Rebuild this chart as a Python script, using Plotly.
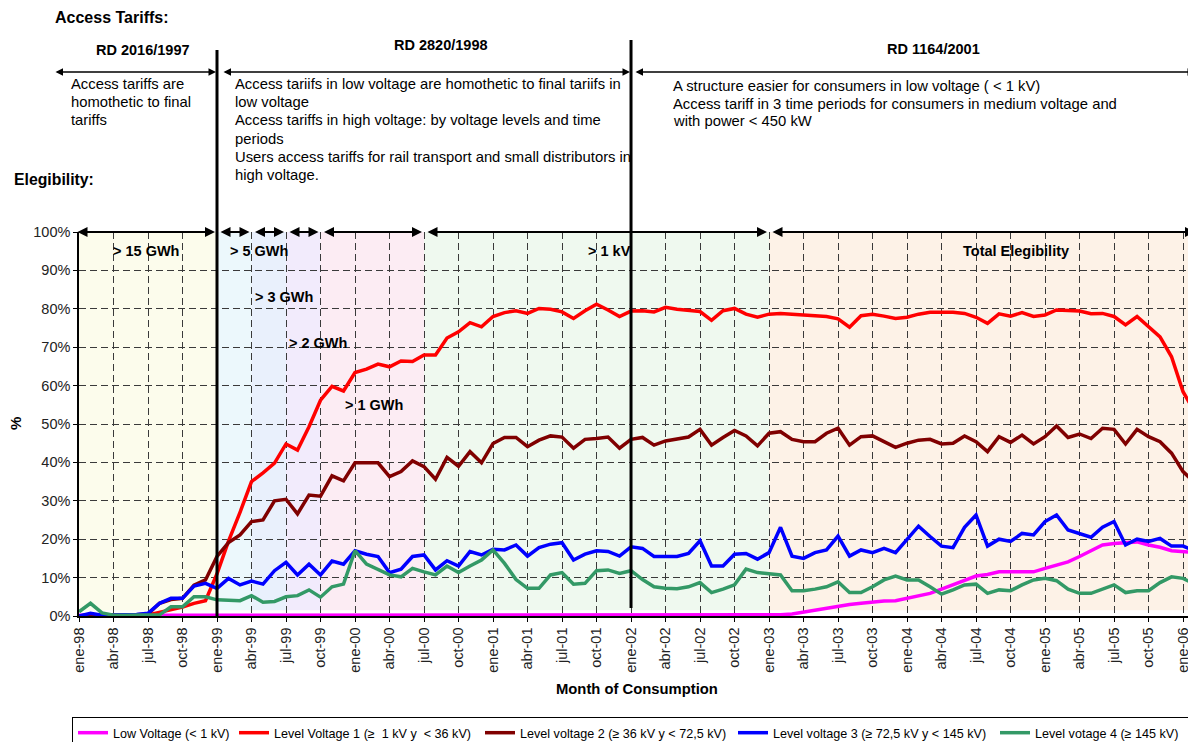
import plotly.graph_objects as go

# ---------------- data ----------------
MES = ["ene", "feb", "mar", "abr", "may", "jun", "jul", "ago", "sep", "oct", "nov", "dic"]
YEARS = ["98", "99", "00", "01", "02", "03", "04", "05", "06"]
months = [f"{m}-{y}" for y in YEARS for m in MES][:98]   # ene-98 ... feb-06
x_idx = list(range(len(months)))

low_voltage = [
    0.2, 0.2, 0.2, 0.2, 0.2, 0.2, 0.2, 0.2, 0.2, 0.2, 0.2, 0.2,
    0.2, 0.2, 0.2, 0.2, 0.2, 0.2, 0.2, 0.2, 0.2, 0.2, 0.2, 0.2,
    0.2, 0.2, 0.2, 0.2, 0.2, 0.2, 0.2, 0.2, 0.2, 0.2, 0.2, 0.2,
    0.2, 0.2, 0.2, 0.2, 0.2, 0.2, 0.2, 0.2, 0.2, 0.2, 0.2, 0.2,
    0.2, 0.2, 0.2, 0.2, 0.2, 0.2, 0.2, 0.2, 0.2, 0.2, 0.2, 0.2,
    0.2, 0.3, 0.5, 1.0, 1.6, 2.0, 2.6, 3.0, 3.3, 3.7, 3.9, 4.0,
    4.6, 5.2, 5.9, 7.0, 8.1, 9.4, 10.4, 10.8, 11.5, 11.5, 11.5, 11.5,
    12.4, 13.3, 14.1, 15.5, 17.0, 18.5, 18.9, 19.0, 19.3, 18.5, 17.9, 17.0,
    16.8, 16.5,
]
level_1 = [
    0.0, 0.2, 0.0, 0.0, 0.0, 0.0, 0.3, 1.0, 1.7, 2.3, 3.3, 4.0,
    11.0, 19.5, 27.0, 35.0, 37.3, 39.8, 44.8, 43.2, 49.3, 56.2, 59.8, 58.6,
    63.4, 64.3, 65.6, 64.9, 66.4, 66.3, 68.0, 68.0, 72.4, 74.0, 76.4, 75.3,
    78.0, 79.0, 79.5, 78.8, 80.1, 79.9, 79.2, 77.5, 79.5, 81.2, 79.7, 78.0,
    79.4, 79.5, 79.2, 80.4, 79.9, 79.5, 79.3, 77.0, 79.5, 80.1, 78.6, 77.8,
    78.6, 78.8, 78.6, 78.4, 78.2, 78.0, 77.4, 75.2, 78.2, 78.6, 78.1, 77.5,
    77.8, 78.6, 79.1, 79.1, 79.1, 78.8, 77.8, 76.2, 78.7, 78.1, 79.0, 78.0,
    78.4, 79.7, 79.5, 79.4, 78.7, 78.8, 78.0, 75.8, 78.0, 75.3, 72.7, 67.5,
    58.4, 53.2,
]
level_2 = [
    0.0, 0.3, 0.2, 0.2, 0.3, 0.3, 0.5, 3.3, 4.3, 4.6, 8.0, 9.4,
    15.5, 19.1, 21.1, 24.6, 25.0, 30.0, 30.4, 26.6, 31.5, 31.2, 36.5, 35.2,
    39.9, 39.9, 39.9, 36.3, 37.6, 40.4, 38.9, 35.6, 41.3, 39.0, 42.8, 39.9,
    44.9, 46.5, 46.5, 44.1, 45.8, 46.9, 46.6, 43.7, 46.0, 46.2, 46.6, 43.7,
    46.0, 46.5, 44.5, 45.6, 46.2, 46.6, 48.6, 44.5, 46.5, 48.3, 46.9, 44.3,
    47.6, 48.0, 46.0, 45.4, 45.4, 47.6, 48.9, 44.5, 46.7, 46.9, 45.4, 43.9,
    45.0, 45.8, 46.0, 44.8, 45.0, 46.9, 45.4, 42.8, 46.7, 45.2, 47.1, 44.8,
    46.7, 49.5, 46.5, 47.4, 46.2, 48.9, 48.6, 44.8, 48.6, 46.7, 45.4, 42.4,
    37.6, 34.8,
]
level_3 = [
    0.0, 0.7, 0.2, 0.2, 0.3, 0.4, 0.7, 3.3, 4.6, 4.6, 7.8, 8.5,
    7.2, 9.8, 8.1, 9.1, 8.3, 11.8, 14.0, 10.7, 13.5, 10.7, 14.3, 13.5,
    17.0, 16.1, 15.5, 11.3, 12.2, 15.5, 15.9, 12.0, 14.4, 13.0, 16.8, 15.9,
    17.4, 17.2, 18.5, 15.6, 17.8, 18.7, 19.1, 14.6, 16.1, 17.0, 16.8, 15.6,
    18.0, 17.6, 15.5, 15.4, 15.5, 16.3, 19.6, 13.0, 13.0, 16.1, 16.3, 14.8,
    16.5, 23.1, 15.6, 15.0, 16.5, 17.2, 20.8, 15.6, 17.2, 16.5, 17.6, 16.5,
    19.8, 23.4, 20.7, 18.2, 17.8, 23.1, 26.3, 18.2, 20.0, 19.4, 21.5, 21.1,
    24.6, 26.3, 22.4, 21.4, 20.5, 23.1, 24.6, 18.5, 20.0, 19.4, 20.2, 18.2,
    18.2, 17.0,
]
level_4 = [
    1.1, 3.3, 0.8, 0.2, 0.2, 0.2, 0.2, 0.3, 2.4, 2.4, 5.0, 5.0,
    4.2, 4.2, 4.0, 5.3, 3.6, 3.8, 5.0, 5.3, 6.8, 4.9, 7.6, 8.3,
    17.0, 13.5, 12.0, 10.7, 10.2, 12.4, 11.5, 10.7, 13.0, 11.3, 13.0, 14.6,
    17.2, 13.7, 9.5, 7.2, 7.2, 10.7, 11.3, 8.3, 8.5, 11.8, 12.0, 11.1,
    11.8, 9.5, 7.6, 7.2, 7.1, 7.6, 8.7, 6.1, 7.0, 8.1, 12.2, 11.3,
    11.0, 10.7, 6.6, 6.6, 7.0, 7.6, 8.9, 6.1, 6.1, 7.6, 9.4, 10.4,
    9.4, 9.4, 7.6, 5.7, 6.8, 8.1, 8.3, 5.9, 6.8, 6.6, 8.1, 9.4,
    9.8, 9.2, 7.0, 5.9, 5.9, 7.0, 8.1, 6.1, 6.6, 6.6, 8.7, 10.2,
    9.8, 8.3,
]

series_names = [
    "Low Voltage (< 1 kV)",
    "Level Voltage 1 (\u2265  1 kV y  < 36 kV)",
    "Level voltage 2 (\u2265 36 kV y < 72,5 kV)",
    "Level voltage 3 (\u2265 72,5 kV y < 145 kV)",
    "Level votage 4 (\u2265 145 kV)",
]
series_values = [low_voltage, level_1, level_2, level_3, level_4]
series_colors = ["#ff00ff", "#ff0000", "#800000", "#0000ff", "#339966"]
legend_widths = [116, 201, 208, 217, 152]

# eligibility periods (month index boundaries) and labels
elig_bounds = [0, 12, 15, 18, 21, 30, 60, 97.04]
elig_fill = ["#fcfcec", "#ecf8fc", "#e9f0fc", "#f2ebfc", "#fcecf3", "#eff9ef", "#fdf2e7"]
elig_labels = [("> 15 GWh", 146, 251), ("> 5 GWh", 259, 251), ("> 3 GWh", 284, 297),
               ("> 2 GWh", 318, 343), ("> 1 GWh", 374, 405), ("> 1 kV", 609, 251),
               ("Total Elegibility", 1016, 251)]

tick_vals = x_idx[::3]
tick_text = months[::3]

# ---------------- geometry (page pixel coords; page body has an 8px margin) ----------------
OX, OY = 8, 8
PL, PT, PR, PB = 79, 232, 1195, 616        # plot area on the page
W, H = 1188, 734
L, T = PL - OX, PT - OY
R = W - (PR - OX)
B = H - (PB - OY)
PW, PH = PR - PL, PB - PT
XMAX = 97.04
FONT = "Liberation Sans, Arial, sans-serif"


def px(xp):
    return (xp - PL) / PW


def py(yp):
    return (PB - yp) / PH


def mx(m):
    return PL + m / XMAX * PW


fig = go.Figure()
for name, vals, col, lw in zip(series_names, series_values, series_colors, legend_widths):
    fig.add_trace(go.Scatter(x=x_idx, y=vals, mode="lines", name=name, legendwidth=lw,
                             line=dict(color=col, width=3.5), cliponaxis=False))

shapes = []
for i in range(len(elig_fill)):
    shapes.append(dict(type="rect", xref="x", yref="y", x0=elig_bounds[i], x1=elig_bounds[i + 1],
                       y0=1.5, y1=100, fillcolor=elig_fill[i], line=dict(width=0), layer="below"))
# thick vertical separators (regulation changes)
shapes.append(dict(type="line", xref="paper", yref="paper", x0=12 / XMAX, x1=12 / XMAX,
                   y0=0, y1=py(50), line=dict(color="black", width=3)))
shapes.append(dict(type="line", xref="paper", yref="paper", x0=48 / XMAX, x1=48 / XMAX,
                   y0=py(608), y1=py(40), line=dict(color="black", width=3)))

ann = []


def text(t, x, y, size=14.8, bold=False, xanchor="left", angle=0):
    ann.append(dict(text=f"<b>{t}</b>" if bold else t, xref="paper", yref="paper",
                    x=px(x), y=py(y), xanchor=xanchor, yanchor="middle", showarrow=False,
                    textangle=angle, font=dict(family=FONT, size=size, color="black")))


def arrow(x0, x1, y, width=1.5):
    ann.append(dict(text="", xref="paper", yref="paper", x=px(x1), y=py(y),
                    axref="pixel", ayref="pixel", ax=x0 - x1, ay=0, showarrow=True,
                    arrowhead=2, arrowside="end+start", arrowsize=1, arrowwidth=width,
                    arrowcolor="black", standoff=0, startstandoff=0))


text("Access Tariffs:", 53, 18, size=16, bold=True)
text("RD 2016/1997", 143, 50, size=14.5, bold=True, xanchor="center")
text("RD 2820/1998", 441, 45, size=14.5, bold=True, xanchor="center")
text("RD 1164/2001", 933, 49, size=14.5, bold=True, xanchor="center")
text("Elegibility:", 12, 180, size=15.8, bold=True)

arrow(54, 216, 72)
arrow(222, 630, 72)
arrow(634, 1200, 72)

left_lines = ["Access tariffs are", "homothetic to final", "tariffs"]
mid_lines = ["Access tariifs in low voltage are homothetic to final tariifs in", "low voltage",
             "Access tariffs in high voltage: by voltage levels and time", "periods",
             "Users access tariffs for rail transport and small distributors in",
             "high voltage."]
right_lines = ["A structure easier for consumers in low voltage ( < 1 kV)",
               "Access tariff in 3 time periods for consumers in medium voltage and",
               "with power < 450 kW"]
for i, t in enumerate(left_lines):
    text(t, 69, 84 + 18 * i)
for i, t in enumerate(mid_lines):
    text(t, 233, 84 + 18.2 * i)
for i, t in enumerate(right_lines):
    text(t, 671, 86 + 17.6 * i)

# eligibility arrows along 100% line
arrow(76, mx(12) - 2, 232, width=2)
for i in range(1, len(elig_bounds) - 1):
    x0 = mx(elig_bounds[i]) + 2
    x1 = mx(elig_bounds[i + 1]) - 2 if i + 1 < len(elig_bounds) - 1 else 1200
    arrow(x0, x1, 232, width=2)

for t, x, y in elig_labels:
    text(t, x, y, size=14.5, bold=True, xanchor="center")

text("%", 15, 424, size=15, bold=True, xanchor="center", angle=-90)
text("Month of Consumption", 637, 689, size=14.8, bold=True, xanchor="center")

grid = dict(showgrid=True, gridcolor="#3a3a3a", gridwidth=1, griddash="7px,4px",
            showline=True, linecolor="black", linewidth=1.5, zeroline=False,
            ticks="outside", ticklen=4, tickcolor="black",
            tickfont=dict(family=FONT, size=14.5, color="#222"))

fig.update_layout(
    width=W, height=H,
    margin=dict(l=L, r=R, t=T, b=B, autoexpand=False),
    paper_bgcolor="white", plot_bgcolor="white",
    showlegend=True,
    legend=dict(orientation="h", x=px(72), xanchor="left", y=py(717), yanchor="top",
                bordercolor="black", borderwidth=1, bgcolor="white",
                font=dict(family=FONT, size=12.6, color="black"), itemwidth=30,
                tracegroupgap=0),
    shapes=shapes,
    annotations=ann,
    xaxis=dict(range=[0, XMAX], tickmode="array", tickvals=tick_vals, ticktext=tick_text,
               tickangle=-90, **grid),
    yaxis=dict(range=[0, 100], dtick=10, ticksuffix="%", **grid),
)

fig.write_html("out.html")
